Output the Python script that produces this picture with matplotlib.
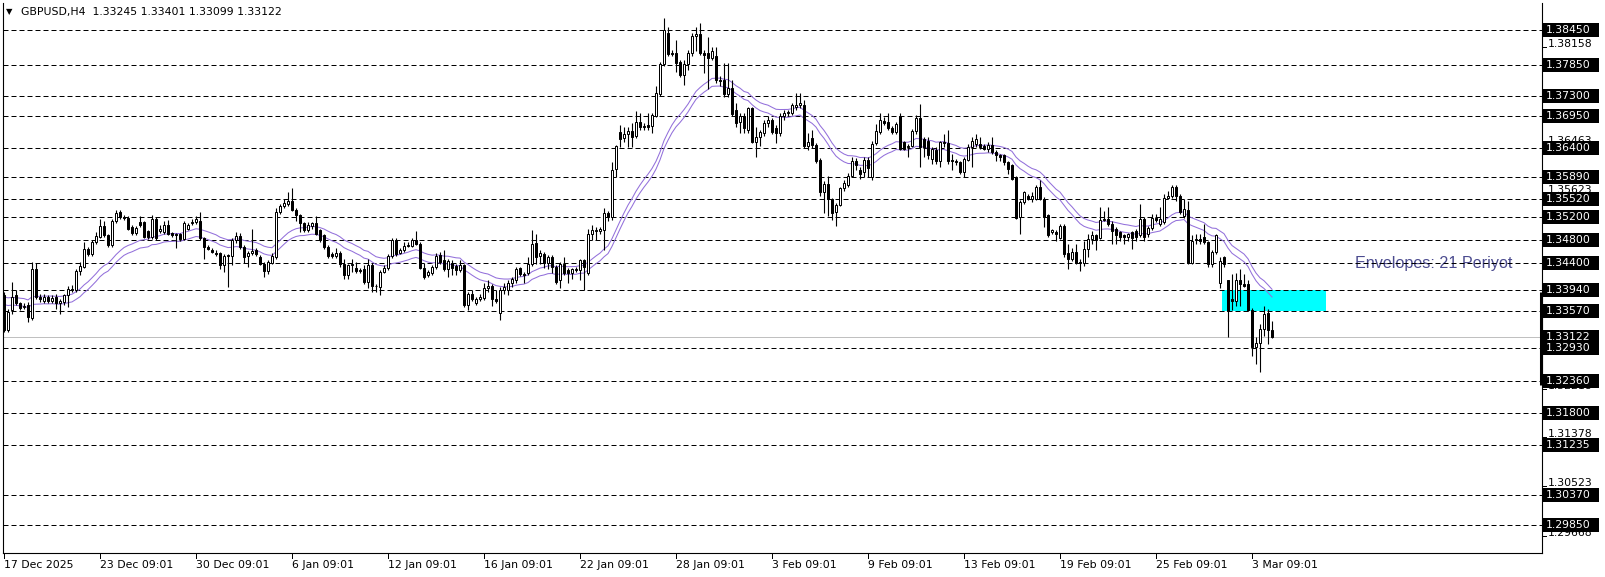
import numpy as np
import matplotlib
matplotlib.use("Agg")
import matplotlib.pyplot as plt
from matplotlib.patches import Rectangle
from matplotlib.transforms import blended_transform_factory, IdentityTransform

# GBPUSD H4 bars (oldest first)
opens = [
    1.3384, 1.3323, 1.3358, 1.3384, 1.3370, 1.3363, 1.3367, 1.3345, 1.3429, 1.3381,
    1.3375, 1.3381, 1.3374, 1.3381, 1.3371, 1.3373, 1.3384, 1.3395, 1.3393, 1.3427,
    1.3433, 1.3465, 1.3456, 1.3477, 1.3485, 1.3504, 1.3488, 1.3471, 1.3513, 1.3528,
    1.3520, 1.3519, 1.3502, 1.3492, 1.3511, 1.3511, 1.3495, 1.3485, 1.3517, 1.3495,
    1.3494, 1.3507, 1.3492, 1.3490, 1.3490, 1.3482, 1.3500, 1.3509, 1.3511, 1.3514,
    1.3483, 1.3468, 1.3463, 1.3458, 1.3458, 1.3437, 1.3454, 1.3452, 1.3480, 1.3487,
    1.3468, 1.3452, 1.3457, 1.3462, 1.3450, 1.3439, 1.3427, 1.3441, 1.3450, 1.3529,
    1.3539, 1.3543, 1.3548, 1.3533, 1.3523, 1.3509, 1.3497, 1.3504, 1.3509, 1.3497,
    1.3488, 1.3468, 1.3456, 1.3452, 1.3458, 1.3439, 1.3420, 1.3436, 1.3432, 1.3428,
    1.3430, 1.3407, 1.3437, 1.3401, 1.3399, 1.3425, 1.3432, 1.3452, 1.3480, 1.3458,
    1.3462, 1.3470, 1.3470, 1.3481, 1.3474, 1.3432, 1.3419, 1.3422, 1.3433, 1.3454,
    1.3445, 1.3429, 1.3441, 1.3435, 1.3428, 1.3436, 1.3367, 1.3386, 1.3370, 1.3377,
    1.3380, 1.3396, 1.3400, 1.3378, 1.3354, 1.3393, 1.3394, 1.3405, 1.3410, 1.3431,
    1.3421, 1.3422, 1.3438, 1.3475, 1.3452, 1.3456, 1.3441, 1.3451, 1.3433, 1.3410,
    1.3439, 1.3428, 1.3422, 1.3428, 1.3428, 1.3445, 1.3422, 1.3490, 1.3495, 1.3496,
    1.3497, 1.3527, 1.3520, 1.3603, 1.3668, 1.3658, 1.3664, 1.3670, 1.3660, 1.3686,
    1.3679, 1.3680, 1.3678, 1.3696, 1.3734, 1.3786, 1.3839, 1.3805, 1.3805, 1.3789,
    1.3767, 1.3786, 1.3805, 1.3835, 1.3838, 1.3805, 1.3805, 1.3796, 1.3799, 1.3758,
    1.3758, 1.3734, 1.3744, 1.3706, 1.3686, 1.3695, 1.3672, 1.3709, 1.3651, 1.3659,
    1.3666, 1.3683, 1.3689, 1.3675, 1.3666, 1.3695, 1.3700, 1.3700, 1.3712, 1.3714,
    1.3715, 1.3643, 1.3657, 1.3646, 1.3620, 1.3563, 1.3578, 1.3551, 1.3529, 1.3541,
    1.3570, 1.3575, 1.3592, 1.3617, 1.3602, 1.3598, 1.3619, 1.3589, 1.3649, 1.3668,
    1.3687, 1.3685, 1.3675, 1.3668, 1.3695, 1.3650, 1.3641, 1.3644, 1.3669, 1.3692,
    1.3656, 1.3653, 1.3621, 1.3637, 1.3618, 1.3650, 1.3648, 1.3619, 1.3618, 1.3615,
    1.3598, 1.3620, 1.3642, 1.3647, 1.3647, 1.3643, 1.3639, 1.3645, 1.3633, 1.3627,
    1.3627, 1.3616, 1.3610, 1.3589, 1.3520, 1.3546, 1.3557, 1.3552, 1.3552, 1.3573,
    1.3552, 1.3523, 1.3494, 1.3494, 1.3484, 1.3505, 1.3458, 1.3448, 1.3459, 1.3442,
    1.3441, 1.3464, 1.3482, 1.3488, 1.3484, 1.3515, 1.3517, 1.3508, 1.3499, 1.3494,
    1.3488, 1.3485, 1.3494, 1.3496, 1.3488, 1.3517, 1.3491, 1.3501, 1.3519, 1.3508,
    1.3511, 1.3553, 1.3556, 1.3572, 1.3557, 1.3522, 1.3532, 1.3441, 1.3480, 1.3482,
    1.3485, 1.3476, 1.3438, 1.3460, 1.3406, 1.3450, 1.3410, 1.3378, 1.3375, 1.3410,
    1.3404, 1.3404, 1.3359, 1.3294, 1.3302, 1.3325, 1.3353, 1.33245,
]
highs = [
    1.3390, 1.3361, 1.3407, 1.3393, 1.3373, 1.3370, 1.3373, 1.3442, 1.3440, 1.3387,
    1.3387, 1.3384, 1.3384, 1.3386, 1.3378, 1.3387, 1.3400, 1.3402, 1.3430, 1.3442,
    1.3477, 1.3468, 1.3480, 1.3494, 1.3516, 1.3514, 1.3490, 1.3516, 1.3532, 1.3532,
    1.3523, 1.3522, 1.3506, 1.3504, 1.3521, 1.3514, 1.3498, 1.3524, 1.3520, 1.3506,
    1.3514, 1.3515, 1.3494, 1.3492, 1.3493, 1.3514, 1.3510, 1.3516, 1.3521, 1.3529,
    1.3485, 1.3471, 1.3466, 1.3462, 1.3460, 1.3455, 1.3456, 1.3483, 1.3494, 1.3492,
    1.3471, 1.3461, 1.3500, 1.3467, 1.3454, 1.3442, 1.3445, 1.3458, 1.3535, 1.3542,
    1.3552, 1.3563, 1.3571, 1.3535, 1.3525, 1.3511, 1.3511, 1.3512, 1.3521, 1.3500,
    1.3491, 1.3471, 1.3460, 1.3466, 1.3461, 1.3448, 1.3439, 1.3448, 1.3442, 1.3432,
    1.3436, 1.3448, 1.3440, 1.3404, 1.3428, 1.3436, 1.3456, 1.3483, 1.3483, 1.3466,
    1.3477, 1.3477, 1.3484, 1.3496, 1.3477, 1.3440, 1.3428, 1.3436, 1.3457, 1.3460,
    1.3463, 1.3447, 1.3445, 1.3438, 1.3445, 1.3439, 1.3389, 1.3393, 1.3381, 1.3387,
    1.3405, 1.3410, 1.3404, 1.3393, 1.3399, 1.3405, 1.3410, 1.3416, 1.3433, 1.3434,
    1.3425, 1.3451, 1.3497, 1.3490, 1.3462, 1.3459, 1.3454, 1.3454, 1.3437, 1.3442,
    1.3451, 1.3431, 1.3431, 1.3433, 1.3448, 1.3448, 1.3499, 1.3506, 1.3502, 1.3503,
    1.3535, 1.3530, 1.3615, 1.3646, 1.3680, 1.3677, 1.3677, 1.3683, 1.3704, 1.3700,
    1.3683, 1.3701, 1.3700, 1.3747, 1.3790, 1.3866, 1.3851, 1.3810, 1.3828, 1.3793,
    1.3793, 1.3810, 1.3840, 1.3851, 1.3857, 1.3810, 1.3833, 1.3816, 1.3816, 1.3765,
    1.3787, 1.3787, 1.3758, 1.3718, 1.3700, 1.3700, 1.3712, 1.3712, 1.3677, 1.3672,
    1.3689, 1.3695, 1.3692, 1.3680, 1.3700, 1.3706, 1.3706, 1.3718, 1.3735, 1.3735,
    1.3724, 1.3666, 1.3672, 1.3649, 1.3623, 1.3582, 1.3591, 1.3554, 1.3544, 1.3573,
    1.3585, 1.3597, 1.3624, 1.3623, 1.3607, 1.3624, 1.3624, 1.3653, 1.3681, 1.3700,
    1.3694, 1.3700, 1.3679, 1.3685, 1.3700, 1.3653, 1.3647, 1.3673, 1.3697, 1.3717,
    1.3659, 1.3659, 1.3642, 1.3642, 1.3653, 1.3665, 1.3671, 1.3630, 1.3621, 1.3618,
    1.3624, 1.3647, 1.3659, 1.3665, 1.3659, 1.3647, 1.3651, 1.3659, 1.3636, 1.3630,
    1.3630, 1.3618, 1.3613, 1.3592, 1.3549, 1.3566, 1.3560, 1.3563, 1.3576, 1.3584,
    1.3555, 1.3526, 1.3500, 1.3497, 1.3508, 1.3508, 1.3473, 1.3467, 1.3473, 1.3447,
    1.3479, 1.3491, 1.3496, 1.3491, 1.3537, 1.3531, 1.3537, 1.3514, 1.3502, 1.3496,
    1.3491, 1.3493, 1.3496, 1.3499, 1.3542, 1.3520, 1.3505, 1.3525, 1.3525, 1.3537,
    1.3560, 1.3566, 1.3575, 1.3575, 1.3560, 1.3551, 1.3548, 1.3488, 1.3491, 1.3491,
    1.3508, 1.3479, 1.3463, 1.3491, 1.3450, 1.3452, 1.3410, 1.3421, 1.3422, 1.3430,
    1.3421, 1.3410, 1.3362, 1.3311, 1.3334, 1.3366, 1.3360, 1.33401,
]
lows = [
    1.3320, 1.3320, 1.3352, 1.3367, 1.3358, 1.3360, 1.3338, 1.3341, 1.3378, 1.3373,
    1.3370, 1.3370, 1.3370, 1.3361, 1.3352, 1.3367, 1.3364, 1.3390, 1.3390, 1.3420,
    1.3431, 1.3452, 1.3452, 1.3474, 1.3483, 1.3485, 1.3468, 1.3468, 1.3509, 1.3517,
    1.3515, 1.3497, 1.3488, 1.3489, 1.3503, 1.3483, 1.3482, 1.3482, 1.3480, 1.3492,
    1.3490, 1.3488, 1.3485, 1.3466, 1.3479, 1.3480, 1.3497, 1.3506, 1.3508, 1.3480,
    1.3448, 1.3462, 1.3457, 1.3452, 1.3430, 1.3425, 1.3399, 1.3436, 1.3475, 1.3465,
    1.3440, 1.3434, 1.3454, 1.3452, 1.3436, 1.3416, 1.3421, 1.3438, 1.3447, 1.3526,
    1.3536, 1.3540, 1.3530, 1.3514, 1.3494, 1.3494, 1.3494, 1.3500, 1.3488, 1.3477,
    1.3465, 1.3449, 1.3449, 1.3449, 1.3433, 1.3413, 1.3413, 1.3425, 1.3422, 1.3423,
    1.3404, 1.3396, 1.3390, 1.3390, 1.3384, 1.3422, 1.3428, 1.3449, 1.3453, 1.3455,
    1.3459, 1.3468, 1.3468, 1.3471, 1.3430, 1.3413, 1.3416, 1.3419, 1.3430, 1.3439,
    1.3426, 1.3416, 1.3420, 1.3420, 1.3425, 1.3364, 1.3358, 1.3374, 1.3367, 1.3374,
    1.3376, 1.3390, 1.3366, 1.3370, 1.3341, 1.3387, 1.3385, 1.3399, 1.3405, 1.3418,
    1.3406, 1.3419, 1.3435, 1.3439, 1.3438, 1.3431, 1.3430, 1.3422, 1.3404, 1.3396,
    1.3419, 1.3405, 1.3413, 1.3424, 1.3410, 1.3393, 1.3419, 1.3480, 1.3480, 1.3491,
    1.3462, 1.3513, 1.3515, 1.3590, 1.3642, 1.3650, 1.3642, 1.3642, 1.3657, 1.3672,
    1.3672, 1.3672, 1.3666, 1.3693, 1.3731, 1.3783, 1.3799, 1.3799, 1.3772, 1.3764,
    1.3750, 1.3776, 1.3799, 1.3808, 1.3802, 1.3770, 1.3743, 1.3793, 1.3753, 1.3747,
    1.3729, 1.3729, 1.3695, 1.3677, 1.3666, 1.3666, 1.3666, 1.3648, 1.3624, 1.3643,
    1.3660, 1.3677, 1.3664, 1.3648, 1.3660, 1.3689, 1.3695, 1.3697, 1.3706, 1.3710,
    1.3640, 1.3637, 1.3640, 1.3614, 1.3556, 1.3527, 1.3521, 1.3515, 1.3504, 1.3539,
    1.3566, 1.3572, 1.3589, 1.3601, 1.3586, 1.3590, 1.3589, 1.3584, 1.3645, 1.3664,
    1.3680, 1.3671, 1.3664, 1.3665, 1.3636, 1.3636, 1.3624, 1.3642, 1.3665, 1.3607,
    1.3624, 1.3621, 1.3613, 1.3613, 1.3607, 1.3642, 1.3613, 1.3601, 1.3610, 1.3595,
    1.3589, 1.3618, 1.3607, 1.3642, 1.3639, 1.3636, 1.3633, 1.3630, 1.3618, 1.3618,
    1.3610, 1.3595, 1.3584, 1.3516, 1.3491, 1.3543, 1.3549, 1.3546, 1.3549, 1.3549,
    1.3502, 1.3485, 1.3491, 1.3479, 1.3482, 1.3450, 1.3430, 1.3444, 1.3438, 1.3427,
    1.3435, 1.3450, 1.3473, 1.3462, 1.3482, 1.3514, 1.3504, 1.3473, 1.3473, 1.3479,
    1.3473, 1.3479, 1.3464, 1.3479, 1.3485, 1.3479, 1.3485, 1.3498, 1.3511, 1.3505,
    1.3508, 1.3551, 1.3553, 1.3548, 1.3525, 1.3519, 1.3438, 1.3438, 1.3473, 1.3473,
    1.3473, 1.3433, 1.3433, 1.3456, 1.3396, 1.3433, 1.3311, 1.3358, 1.3366, 1.3366,
    1.3398, 1.3356, 1.3279, 1.3265, 1.3250, 1.3314, 1.3299, 1.33099,
]
closes = [
    1.3323, 1.3355, 1.3381, 1.3370, 1.3362, 1.3365, 1.3346, 1.3429, 1.3381, 1.3378,
    1.3381, 1.3374, 1.3379, 1.3370, 1.3374, 1.3384, 1.3395, 1.3393, 1.3427, 1.3435,
    1.3465, 1.3456, 1.3477, 1.3487, 1.3504, 1.3488, 1.3471, 1.3513, 1.3527, 1.3520,
    1.3518, 1.3500, 1.3492, 1.3501, 1.3506, 1.3485, 1.3485, 1.3517, 1.3483, 1.3500,
    1.3507, 1.3491, 1.3488, 1.3488, 1.3482, 1.3509, 1.3506, 1.3512, 1.3516, 1.3483,
    1.3468, 1.3465, 1.3460, 1.3456, 1.3437, 1.3452, 1.3452, 1.3480, 1.3487, 1.3468,
    1.3451, 1.3458, 1.3461, 1.3456, 1.3439, 1.3427, 1.3442, 1.3452, 1.3529, 1.3539,
    1.3545, 1.3548, 1.3533, 1.3523, 1.3509, 1.3497, 1.3507, 1.3509, 1.3491, 1.3480,
    1.3468, 1.3452, 1.3452, 1.3458, 1.3439, 1.3420, 1.3436, 1.3439, 1.3426, 1.3427,
    1.3407, 1.3437, 1.3400, 1.3400, 1.3425, 1.3432, 1.3452, 1.3480, 1.3456, 1.3462,
    1.3470, 1.3472, 1.3481, 1.3474, 1.3432, 1.3416, 1.3425, 1.3433, 1.3452, 1.3442,
    1.3429, 1.3444, 1.3431, 1.3428, 1.3437, 1.3367, 1.3386, 1.3377, 1.3377, 1.3381,
    1.3396, 1.3400, 1.3377, 1.3375, 1.3393, 1.3399, 1.3405, 1.3412, 1.3429, 1.3421,
    1.3419, 1.3439, 1.3474, 1.3451, 1.3457, 1.3441, 1.3451, 1.3433, 1.3407, 1.3439,
    1.3423, 1.3423, 1.3429, 1.3429, 1.3445, 1.3433, 1.3490, 1.3498, 1.3497, 1.3500,
    1.3527, 1.3520, 1.3601, 1.3643, 1.3656, 1.3664, 1.3670, 1.3659, 1.3686, 1.3677,
    1.3677, 1.3677, 1.3697, 1.3735, 1.3786, 1.3845, 1.3803, 1.3803, 1.3787, 1.3767,
    1.3786, 1.3805, 1.3835, 1.3838, 1.3805, 1.3801, 1.3796, 1.3808, 1.3758, 1.3756,
    1.3734, 1.3744, 1.3699, 1.3684, 1.3695, 1.3674, 1.3709, 1.3651, 1.3659, 1.3667,
    1.3684, 1.3689, 1.3667, 1.3666, 1.3695, 1.3700, 1.3702, 1.3715, 1.3715, 1.3718,
    1.3643, 1.3650, 1.3646, 1.3618, 1.3563, 1.3578, 1.3551, 1.3527, 1.3541, 1.3570,
    1.3579, 1.3592, 1.3617, 1.3610, 1.3595, 1.3619, 1.3606, 1.3647, 1.3669, 1.3688,
    1.3683, 1.3674, 1.3668, 1.3681, 1.3639, 1.3639, 1.3643, 1.3669, 1.3692, 1.3642,
    1.3642, 1.3627, 1.3639, 1.3618, 1.3650, 1.3648, 1.3618, 1.3618, 1.3616, 1.3598,
    1.3621, 1.3642, 1.3653, 1.3656, 1.3642, 1.3639, 1.3645, 1.3633, 1.3627, 1.3625,
    1.3616, 1.3604, 1.3587, 1.3519, 1.3546, 1.3563, 1.3552, 1.3557, 1.3573, 1.3552,
    1.3520, 1.3488, 1.3497, 1.3490, 1.3505, 1.3456, 1.3447, 1.3459, 1.3441, 1.3440,
    1.3464, 1.3482, 1.3488, 1.3480, 1.3515, 1.3517, 1.3508, 1.3496, 1.3488, 1.3485,
    1.3485, 1.3490, 1.3484, 1.3485, 1.3517, 1.3485, 1.3501, 1.3519, 1.3515, 1.3517,
    1.3553, 1.3557, 1.3572, 1.3556, 1.3528, 1.3534, 1.3441, 1.3479, 1.3482, 1.3478,
    1.3476, 1.3438, 1.3460, 1.3488, 1.3444, 1.3438, 1.3357, 1.3374, 1.3410, 1.3403,
    1.3401, 1.3358, 1.3294, 1.3302, 1.3325, 1.3352, 1.3323, 1.33122,
]

date_labels = ["17 Dec 2025", "23 Dec 09:01", "30 Dec 09:01", "6 Jan 09:01",
               "12 Jan 09:01", "16 Jan 09:01", "22 Jan 09:01", "28 Jan 09:01",
               "3 Feb 09:01", "9 Feb 09:01", "13 Feb 09:01", "19 Feb 09:01",
               "25 Feb 09:01", "3 Mar 09:01"]
label_step = 24  # one date label every 24 bars

levels = [1.38450, 1.37850, 1.37300, 1.36950, 1.36400, 1.35890, 1.35520,
          1.35200, 1.34800, 1.34400, 1.33940, 1.33570, 1.32930, 1.32360,
          1.31800, 1.31235, 1.30370, 1.29850]
bid = 1.33122
# price-scale ticks that show (the rest sit under the level labels)
scale_ticks = [1.38158, 1.36463, 1.35623, 1.32218, 1.31378, 1.30523, 1.29668]

env_period = 21
env_dev = 0.05      # percent
env_seed = 1.3380   # MA level at the left edge of the chart
zone_top, zone_bottom = 1.33940, 1.33570
scale_mark = (1.3389, 1.3228)   # heavy stretch of the price axis line
title = "GBPUSD,H4  1.33245 1.33401 1.33099 1.33122"

o = np.array(opens); c = np.array(closes)
h = np.maximum(np.array(highs), np.maximum(o, c))
l = np.minimum(np.array(lows), np.minimum(o, c))
x = np.arange(len(c))

W, H = 1606, 577
ylo, yhi = 1.29364, 1.38919
fig = plt.figure(figsize=(W / 100, H / 100), dpi=100)
ax = fig.add_axes([3 / W, 24 / H, 1539 / W, 550 / H])
ax.set_xlim(-0.25, 384.5)
ax.set_ylim(ylo, yhi)
ax.set_xticks([]); ax.set_yticks([])
for s in ax.spines.values():
    s.set_linewidth(0.8)
    s.set_color("black")
ax.spines["top"].set_visible(False)

px = 0.72  # one pixel in points
dash = (0, (5, 3))
for p in levels:
    ax.axhline(p, color="black", lw=px, ls=dash, zorder=2)
ax.axhline(bid, color="#c0c0c0", lw=px, zorder=1.8)

ax.add_patch(Rectangle((304.5, zone_bottom), 26, zone_top - zone_bottom,
                       facecolor="#00ffff", edgecolor="none", zorder=1))

# envelopes around an EMA of the closes
alpha = 2 / (env_period + 1)
ma = []
m = env_seed
for v in c:
    m += alpha * (v - m)
    ma.append(m)
ma = np.array(ma)
ax.plot(x, ma * (1 + env_dev / 100), color="#9370db", lw=0.75, zorder=2.5)
ax.plot(x, ma * (1 - env_dev / 100), color="#9370db", lw=0.75, zorder=2.5)

# candles
ax.vlines(x, l, h, color="black", lw=0.8, zorder=3)
up = c >= o
bot = np.minimum(o, c)
hgt = np.maximum(np.abs(c - o), 0.00004)
ax.bar(x[up], hgt[up], bottom=bot[up], width=0.5, facecolor="white",
       edgecolor="black", lw=px, zorder=4)
ax.bar(x[~up], hgt[~up], bottom=bot[~up], width=0.5, facecolor="black",
       edgecolor="black", lw=px, zorder=4)

ax.text(337.75, 1.3440, "Envelopes: 21 Periyot", color="#4b4b8f",
        fontsize=11.6, family="Liberation Sans", va="center", ha="left", zorder=1.5)

# right price scale
tr = blended_transform_factory(IdentityTransform(), ax.transData)
ppu = 550 / (yhi - ylo)
font = dict(family="DejaVu Sans", fontsize=7.8)
ax.plot([1541, 1541], list(scale_mark), color="black", lw=2.2, transform=tr,
        clip_on=False, solid_capstyle="butt")
for p in scale_ticks:
    ax.plot([1542, 1546], [p, p], color="black", lw=px, transform=tr, clip_on=False)
    ax.text(1548, p + 3 / ppu, f"{p:.5f}", color="black", va="center", ha="left",
            transform=tr, clip_on=False, **font)
for p in levels + [bid]:
    ax.add_patch(Rectangle((1543, p - 7 / ppu), 56, 14 / ppu, transform=tr,
                           facecolor="black", edgecolor="none", clip_on=False, zorder=5))
    ax.text(1546, p, f"{p:.5f}", color="white", va="center", ha="left",
            transform=tr, clip_on=False, zorder=6, **font)

# time scale
trx = blended_transform_factory(ax.transData, IdentityTransform())
for k, lab in enumerate(date_labels):
    xi = k * label_step
    ax.plot([xi, xi], [24, 19], color="black", lw=px, transform=trx, clip_on=False)
    ax.text(xi - 0.1, 12, lab, va="center", ha="left", transform=trx,
            clip_on=False, **font)

fig.text(6 / W, 1 - 12 / H, "\u25bc", fontsize=6, va="center", ha="left",
         family="DejaVu Sans")
fig.text(21 / W, 1 - 12 / H, title, va="center", ha="left", **font)

fig.savefig("out.png", dpi=100, facecolor="white")
